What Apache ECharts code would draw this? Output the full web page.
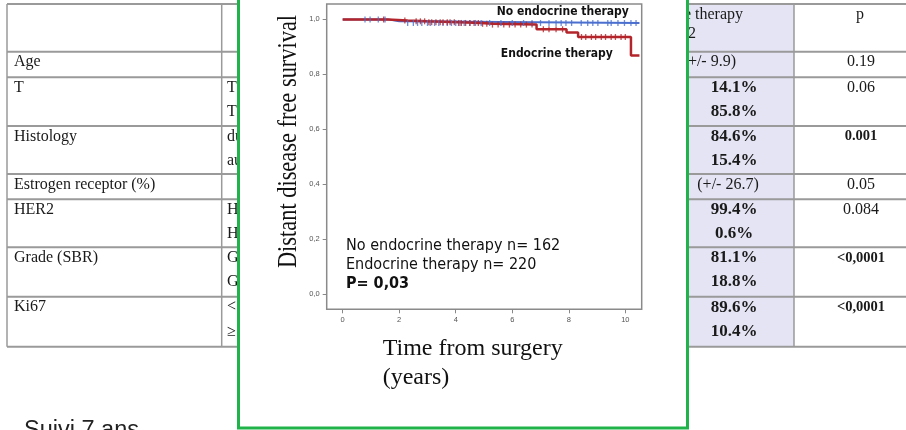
<!DOCTYPE html>
<html>
<head>
<meta charset="utf-8">
<script src="https://cdn.jsdelivr.net/npm/echarts@6/dist/echarts.min.js"></script>
<style>
  html, body { margin: 0; padding: 0; background: #ffffff; }
  #chart { width: 906px; height: 430px; }
</style>
</head>
<body>
<div id="chart"></div>
<script>
// ---- Kaplan-Meier data (years, survival probability) ----
const noEndoTimes = [0, 1.6, 2.0, 10.5];
const noEndoSurv  = [1.0, 0.993, 0.987, 0.987];
const endoTimes   = [0, 1.6, 2.3, 3.0, 4.1, 4.9, 5.3, 6.86, 7.92, 8.33, 10.2, 10.5];
const endoSurv    = [1.0, 0.996, 0.993, 0.990, 0.987, 0.984, 0.981, 0.964, 0.952, 0.936, 0.869, 0.869];

// censored follow-up times
const noEndoCensored = [0.79, 0.97, 1.26, 1.5, 2.3, 2.5, 2.65, 2.8, 3.0, 3.1, 3.25, 3.4, 3.55, 3.7,
  3.85, 4.0, 4.15, 4.3, 4.5, 4.7, 4.9, 5.2, 5.6, 6.0, 6.4, 6.7, 7.0, 7.3, 7.55, 7.73, 7.9, 8.1,
  8.44, 8.67, 8.85, 9.03, 9.38, 9.5, 9.74, 9.97, 10.2, 10.38];
const endoCensored = [1.45, 2.2, 2.6, 2.75, 2.9, 3.05, 3.15, 3.3, 3.45, 3.55, 3.7, 3.8, 3.95, 4.1,
  4.2, 4.35, 4.5, 4.65, 4.8, 4.95, 5.1, 5.3, 5.5, 5.7, 5.9, 6.1, 6.3, 6.5, 6.7, 7.1, 7.3, 7.55,
  7.78, 8.45, 8.6, 8.8, 8.95, 9.15, 9.3, 9.5, 9.65, 9.85, 10.0];

const xTicks = [0, 2, 4, 6, 8, 10];
const yTicks = [0, 0.2, 0.4, 0.6, 0.8, 1.0];

const groupLabels = ['No endocrine therapy', 'Endocrine therapy'];
const groupCounts = [162, 220];
const pValueText = 'P= 0,03';

// ---- background table ----
const rowLabels = ['Age', 'T', 'Histology', 'Estrogen receptor (%)', 'HER2', 'Grade (SBR)', 'Ki67'];
const subLabels = [[], ['T1', 'T2'], ['ductal', 'autre'], [], ['HER2 -', 'HER2 +'], ['Grade 1-2', 'Grade 3'], ['< 20%', '\u2265 20%']];
const endoValues = [['(+/- 9.9)'], ['14.1%', '85.8%'], ['84.6%', '15.4%'], ['(+/- 26.7)'], ['99.4%', '0.6%'], ['81.1%', '18.8%'], ['89.6%', '10.4%']];
const pValues = ['0.19', '0.06', '0.001', '0.05', '0.084', '<0,0001', '<0,0001'];
const pBold = [false, false, true, false, false, true, true];
const endoHeader = ['Endocrine therapy', 'n=222'];
const footNote = 'Suivi 7 ans';

// ---- helpers ----
function pairs(ts, ss) { return ts.map((t, i) => [t, ss[i]]); }
function levelAt(ts, ss, t) {
  let s = ss[0];
  for (let i = 0; i < ts.length; i++) if (ts[i] <= t) s = ss[i];
  return s;
}

const RED = '#b3242b';
const BLUE = '#4a6fcf';
const SERIF = '"Liberation Serif", "Times New Roman", serif';
const SANS = '"DejaVu Sans Condensed", "DejaVu Sans", sans-serif';

// table layout
const rowEdges = [4, 51.7, 77.3, 126, 174, 199.3, 247.3, 296.7, 346.7];
const lineGap = 24.3;
const tableLine = '#9a9a9a';
const g = [];

// shaded column
g.push({ type: 'rect', z: 0, shape: { x: 560, y: rowEdges[0], width: 794 - 560, height: rowEdges[8] - rowEdges[0] },
  style: { fill: '#e4e4f4' } });
// row lines
rowEdges.forEach(y => g.push({ type: 'line', z: 0, shape: { x1: 7, y1: y, x2: 906, y2: y },
  style: { stroke: tableLine, lineWidth: 2 } }));
// column lines
[7, 221.7, 794].forEach(x => g.push({ type: 'line', z: 0, shape: { x1: x, y1: rowEdges[0], x2: x, y2: rowEdges[8] },
  style: { stroke: tableLine, lineWidth: 1.5 } }));

function tText(text, x, y, align, size, bold) {
  g.push({ type: 'text', z: 0, x: x, y: y, style: { text: text, fill: '#1a1a1a', fontFamily: SERIF,
    fontSize: size, fontWeight: bold ? 'bold' : 'normal', align: align, verticalAlign: 'middle' } });
}
rowLabels.forEach((lab, i) => {
  const y0 = rowEdges[i + 1] + 10.5;
  tText(lab, 14, y0, 'left', 16, false);
  subLabels[i].forEach((s, k) => tText(s, 227, y0 + k * lineGap, 'left', 16, false));
  endoValues[i].forEach((v, k) => {
    const isPct = v.indexOf('%') >= 0 && v.indexOf('(') < 0;
    if (i === 0) tText(v, 736, y0 + k * lineGap, 'right', 16, false);
    else tText(v, isPct ? 734 : 728, y0 + k * lineGap, 'center', isPct ? 17 : 16, isPct);
  });
  tText(pValues[i], 861, y0, 'center', pBold[i] ? 14.5 : 16, pBold[i]);
});
tText(endoHeader[0], 743, 15, 'right', 16, false);
tText(endoHeader[1], 696, 34, 'right', 16, false);
tText('p', 860, 15, 'center', 16, false);

g.push({ type: 'text', z: 0, x: 24, y: 431, style: { text: footNote, fill: '#222', fontFamily: '"Liberation Sans", Arial, sans-serif',
  fontSize: 23.5, align: 'left', verticalAlign: 'middle' } });

// framed panel that holds the survival plot
g.push({ type: 'rect', z: 1, shape: { x: 238.5, y: -10, width: 449, height: 438 },
  style: { fill: '#ffffff', stroke: '#20b34a', lineWidth: 3 } });

// axis titles
g.push({ type: 'text', z: 10, x: 289, y: 141.5, rotation: Math.PI / 2, scaleX: 0.8,
  style: { text: 'Distant disease free survival', fill: '#111', fontFamily: SERIF, fontSize: 28,
    align: 'center', verticalAlign: 'middle' } });
g.push({ type: 'text', z: 10, x: 382.7, y: 349, style: { text: 'Time from surgery', fill: '#111', fontFamily: SERIF,
  fontSize: 24, align: 'left', verticalAlign: 'middle' } });
g.push({ type: 'text', z: 10, x: 382.7, y: 378, style: { text: '(years)', fill: '#111', fontFamily: SERIF,
  fontSize: 24, align: 'left', verticalAlign: 'middle' } });

// curve labels
g.push({ type: 'text', z: 10, x: 562.8, y: 12.3, style: { text: groupLabels[0], fill: '#111', fontFamily: SANS,
  fontSize: 12, fontWeight: 'bold', align: 'center', verticalAlign: 'middle' } });
g.push({ type: 'text', z: 10, x: 556.8, y: 54.3, style: { text: groupLabels[1], fill: '#111', fontFamily: SANS,
  fontSize: 12, fontWeight: 'bold', align: 'center', verticalAlign: 'middle' } });

// group sizes and log-rank p
g.push({ type: 'text', z: 10, x: 346, y: 246, style: { text: groupLabels[0] + ' n= ' + groupCounts[0], fill: '#111',
  fontFamily: SANS, fontSize: 16, align: 'left', verticalAlign: 'middle' } });
g.push({ type: 'text', z: 10, x: 346, y: 265, style: { text: groupLabels[1] + ' n= ' + groupCounts[1], fill: '#111',
  fontFamily: SANS, fontSize: 16, align: 'left', verticalAlign: 'middle' } });
g.push({ type: 'text', z: 10, x: 346, y: 284, style: { text: pValueText, fill: '#111',
  fontFamily: SANS, fontSize: 16, fontWeight: 'bold', align: 'left', verticalAlign: 'middle' } });

const tickLabelStyle = { color: '#555', fontSize: 7.5, fontFamily: '"Liberation Sans", Arial, sans-serif' };

const chart = echarts.init(document.getElementById('chart'), null, { renderer: 'canvas' });
chart.setOption({
  animation: false,
  backgroundColor: '#ffffff',
  graphic: { elements: g },
  grid: { left: 326.7, top: 4, right: 264.3, bottom: 120.7, show: true, z: 4,
    backgroundColor: '#ffffff', borderColor: '#8a8a8a', borderWidth: 1.5 },
  xAxis: {
    type: 'value', min: -0.565, max: 10.58, z: 5,
    axisLine: { show: false, onZero: false },
    splitLine: { show: false },
    axisTick: { show: true, length: 4, customValues: xTicks, lineStyle: { color: '#888' } },
    axisLabel: { customValues: xTicks, margin: 7, ...tickLabelStyle }
  },
  yAxis: {
    type: 'value', min: -0.055, max: 1.056, z: 5,
    axisLine: { show: false, onZero: false },
    splitLine: { show: false },
    axisTick: { show: true, length: 4, customValues: yTicks, lineStyle: { color: '#888' } },
    axisLabel: { customValues: yTicks, margin: 7, ...tickLabelStyle,
      formatter: v => v.toFixed(1).replace('.', ',') }
  },
  series: [
    { type: 'line', step: 'end', z: 6, showSymbol: false, data: pairs(noEndoTimes, noEndoSurv),
      lineStyle: { color: BLUE, width: 2 } },
    { type: 'line', step: 'end', z: 7, showSymbol: false, data: pairs(endoTimes, endoSurv),
      lineStyle: { color: RED, width: 2.5 } },
    { type: 'scatter', z: 8, symbol: 'rect', symbolSize: [1.3, 6], itemStyle: { color: BLUE },
      data: noEndoCensored.map(t => [t, levelAt(noEndoTimes, noEndoSurv, t)]) },
    { type: 'scatter', z: 9, symbol: 'rect', symbolSize: [1.3, 6], itemStyle: { color: RED },
      data: endoCensored.map(t => [t, levelAt(endoTimes, endoSurv, t)]) }
  ]
});
</script>
</body>
</html>
